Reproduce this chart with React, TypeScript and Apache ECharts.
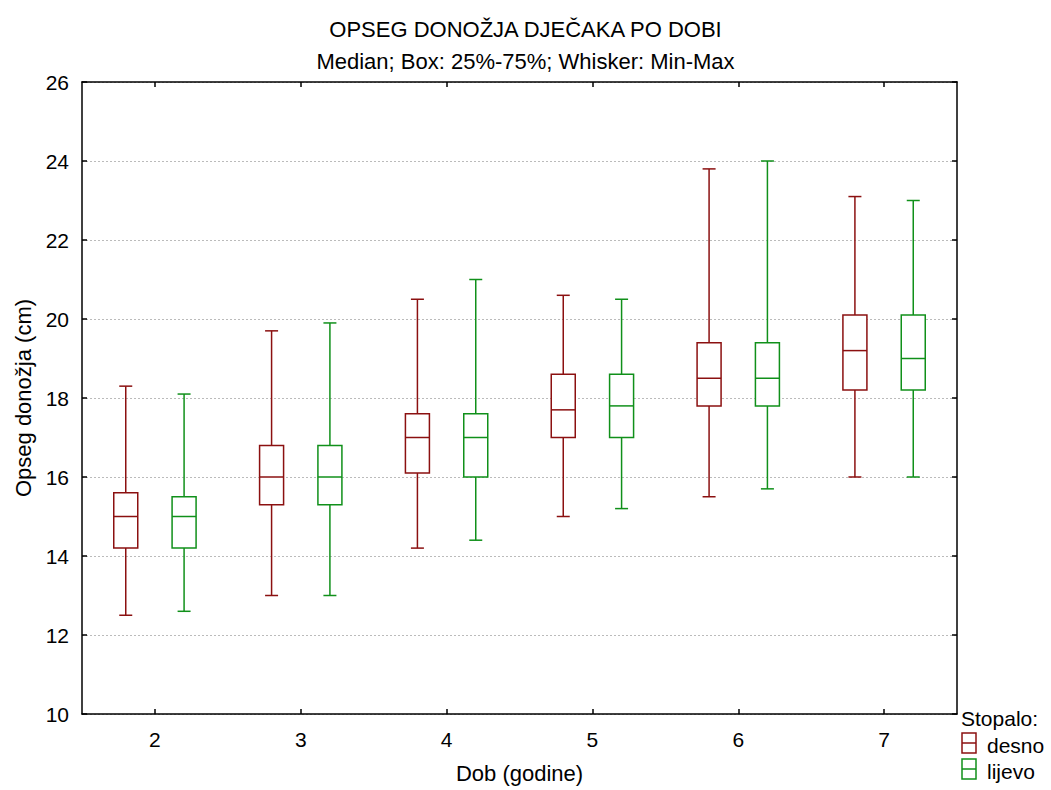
import React, { useEffect, useRef } from "react";
import * as echarts from "echarts";

const ages = ["2", "3", "4", "5", "6", "7"];
// [min, q1, median, q3, max]
const desno = [
  [12.5, 14.2, 15.0, 15.6, 18.3],
  [13.0, 15.3, 16.0, 16.8, 19.7],
  [14.2, 16.1, 17.0, 17.6, 20.5],
  [15.0, 17.0, 17.7, 18.6, 20.6],
  [15.5, 17.8, 18.5, 19.4, 23.8],
  [16.0, 18.2, 19.2, 20.1, 23.1],
];
const lijevo = [
  [12.6, 14.2, 15.0, 15.5, 18.1],
  [13.0, 15.3, 16.0, 16.8, 19.9],
  [14.4, 16.0, 17.0, 17.6, 21.0],
  [15.2, 17.0, 17.8, 18.6, 20.5],
  [15.7, 17.8, 18.5, 19.4, 24.0],
  [16.0, 18.2, 19.0, 20.1, 23.0],
];
const yTicks = [10, 12, 14, 16, 18, 20, 22, 24, 26];

const RED = "#8b1010";
const GREEN = "#10901a";
const FONT = "Arial";
const FS_BIG = 22;
const FS = 21;

function makeRender(offsetFrac: number, color: string) {
  return (params: any, api: any) => {
    const idx = api.value(0);
    const mn = api.value(1);
    const q1 = api.value(2);
    const md = api.value(3);
    const q3 = api.value(4);
    const mx = api.value(5);
    const band = api.size([1, 0])[0];
    const cx = api.coord([idx, md])[0] + band * offsetFrac;
    const y = (v: number) => api.coord([idx, v])[1];
    const bw = 24;
    const cw = 13;
    const st = { stroke: color, lineWidth: 1.5, fill: "none" };
    return {
      type: "group",
      children: [
        { type: "line", shape: { x1: cx, y1: y(mx), x2: cx, y2: y(q3) }, style: st },
        { type: "line", shape: { x1: cx, y1: y(q1), x2: cx, y2: y(mn) }, style: st },
        { type: "line", shape: { x1: cx - cw / 2, y1: y(mx), x2: cx + cw / 2, y2: y(mx) }, style: st },
        { type: "line", shape: { x1: cx - cw / 2, y1: y(mn), x2: cx + cw / 2, y2: y(mn) }, style: st },
        { type: "rect", shape: { x: cx - bw / 2, y: y(q3), width: bw, height: y(q1) - y(q3) }, style: { ...st, fill: "#fff" } },
        { type: "line", shape: { x1: cx - bw / 2, y1: y(md), x2: cx + bw / 2, y2: y(md) }, style: st },
      ],
    };
  };
}

function legendIcon(x: number, y: number, color: string) {
  return [
    { type: "rect", shape: { x, y, width: 14, height: 20 }, style: { stroke: color, lineWidth: 1.5, fill: "none" } },
    { type: "line", shape: { x1: x, y1: y + 10, x2: x + 14, y2: y + 10 }, style: { stroke: color, lineWidth: 1.5 } },
  ];
}

function legendText(text: string, x: number, y: number) {
  return {
    type: "text",
    x,
    y,
    style: { text, fontFamily: FONT, fontSize: FS, fill: "#000", verticalAlign: "middle", align: "left" },
  };
}

export default function App() {
  const ref = useRef<HTMLDivElement>(null);
  useEffect(() => {
    if (!ref.current) return;
    const chart = echarts.init(ref.current, null, { renderer: "svg" });
    const toData = (arr: number[][]) => arr.map((d, i) => [i, ...d]);
    const axisLine = { show: true, lineStyle: { color: "#000", width: 1.5 } };
    const txt = { fontFamily: FONT, fontSize: FS, color: "#000" };
    const big = { fontFamily: FONT, fontSize: FS_BIG, color: "#000" };
    chart.setOption({
      animation: false,
      backgroundColor: "#fff",
      textStyle: { fontFamily: FONT, fontSize: FS },
      title: {
        text: "OPSEG DONOŽJA DJEČAKA PO DOBI",
        subtext: "Median; Box: 25%-75%; Whisker: Min-Max",
        left: "center",
        top: 13,
        itemGap: 10,
        textStyle: { ...big, fontWeight: "normal" },
        subtextStyle: { ...big },
      },
      grid: { left: 82, top: 82, right: 94, bottom: 76 },
      xAxis: [
        {
          type: "category",
          data: ages,
          boundaryGap: true,
          name: "Dob (godine)",
          nameLocation: "middle",
          nameGap: 48,
          nameTextStyle: { ...big },
          axisLine,
          axisTick: { show: true, inside: true, length: 5, alignWithLabel: true, lineStyle: { color: "#000", width: 1.5 } },
          axisLabel: { ...txt, margin: 15 },
          splitLine: { show: false },
        },
        {
          type: "category",
          data: ages,
          position: "top",
          boundaryGap: true,
          axisLine,
          axisTick: { show: true, inside: true, length: 5, alignWithLabel: true, lineStyle: { color: "#000", width: 1.5 } },
          axisLabel: { show: false },
          splitLine: { show: false },
        },
      ],
      yAxis: [
        {
          type: "value",
          min: 10,
          max: 26,
          interval: 2,
          name: "Opseg donožja (cm)",
          nameLocation: "middle",
          nameGap: 47,
          nameTextStyle: { ...big },
          axisLine,
          axisTick: { show: true, inside: true, length: 5, lineStyle: { color: "#000", width: 1.5 } },
          axisLabel: {
            ...txt,
            margin: 13,
            formatter: (v: number) => (yTicks.includes(v) ? String(v) : ""),
          },
          splitLine: { show: true, lineStyle: { color: "#bbb", type: [2, 2], width: 1 } },
        },
        {
          type: "value",
          min: 10,
          max: 26,
          interval: 2,
          position: "right",
          axisLine,
          axisTick: { show: true, inside: true, length: 5, lineStyle: { color: "#000", width: 1.5 } },
          axisLabel: { show: false },
          splitLine: { show: false },
        },
      ],
      series: [
        {
          name: "desno",
          type: "custom",
          renderItem: makeRender(-0.2, RED),
          encode: { x: 0, y: [1, 2, 3, 4, 5] },
          data: toData(desno),
          z: 3,
        },
        {
          name: "lijevo",
          type: "custom",
          renderItem: makeRender(0.2, GREEN),
          encode: { x: 0, y: [1, 2, 3, 4, 5] },
          data: toData(lijevo),
          z: 3,
        },
      ],
      graphic: [
        legendText("Stopalo:", 961, 718),
        ...legendIcon(962, 733, RED),
        legendText("desno", 987, 745),
        ...legendIcon(962, 759, GREEN),
        legendText("lijevo", 987, 771),
      ],
    });
    return () => chart.dispose();
  }, []);
  return <div ref={ref} style={{ width: 1051, height: 790, position: "absolute", left: 0, top: 0 }} />;
}
